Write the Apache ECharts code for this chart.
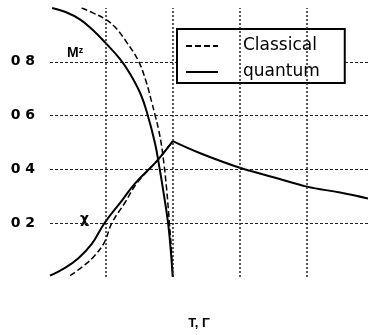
<!DOCTYPE html>
<html>
<head>
<meta charset="utf-8">
<script src="https://cdn.jsdelivr.net/npm/echarts@6/dist/echarts.min.js"></script>
<style>
html,body{margin:0;padding:0;background:#fff;}
#chart{width:368px;height:335px;}
</style>
</head>
<body>
<div id="chart"></div>
<script>
// ---- data ----
const tQuantumM   = [0.10, 0.20, 0.31, 0.40, 0.495, 0.607, 0.681, 0.756, 0.806, 0.868, 0.903, 0.93, 0.965, 0.985, 1.0];
const quantumM    = [1.00, 0.985, 0.957, 0.92, 0.872, 0.81, 0.756, 0.685, 0.614, 0.496, 0.40, 0.318, 0.201, 0.10, 0.0];

const tClassicalM = [0.32, 0.40, 0.495, 0.569, 0.657, 0.743, 0.801, 0.843, 0.868, 0.894, 0.916, 0.935, 0.954, 0.975, 0.99, 1.0];
const classicalM  = [1.00, 0.983, 0.959, 0.929, 0.872, 0.804, 0.727, 0.650, 0.602, 0.549, 0.489, 0.418, 0.329, 0.201, 0.102, 0.0];

const tQuantumChi = [0.084, 0.196, 0.296, 0.396, 0.49, 0.619, 0.719, 0.881, 1.0, 1.205, 1.495, 1.751, 2.0, 2.249, 2.457];
const quantumChi  = [0.005, 0.034, 0.070, 0.123, 0.200, 0.283, 0.348, 0.431, 0.505, 0.46, 0.407, 0.371, 0.336, 0.314, 0.292];

const tClassicalChi = [0.234, 0.346, 0.42, 0.49, 0.545, 0.644, 0.731, 0.881, 1.0];
const classicalChi  = [0.005, 0.046, 0.081, 0.129, 0.200, 0.277, 0.348, 0.431, 0.505];

const gridT = [0.5, 1.0, 1.5, 2.0];
const yTickValues = [0.2, 0.4, 0.6, 0.8];
const yTickLabels = ['0 2', '0 4', '0 6', '0 8'];
const legendNames = ['Classical', 'quantum'];
const xTitle = 'T, Γ';
const tc = 1.0;

// ---- build ----
const zip = (xs, ys) => xs.map((x, i) => [x, ys[i]]);
const qChi = zip(tQuantumChi, quantumChi);
const qChiLow = qChi.filter(p => p[0] <= tc);
const qChiHigh = qChi.filter(p => p[0] >= tc);

const solid = {color: '#000', width: 2, type: 'solid'};
const dashed = {color: '#000', width: 1.5, type: [6, 3]};

function lineSeries(name, data, style) {
  return {
    name: name, type: 'line', data: data, symbol: 'none', showSymbol: false,
    smooth: 0.4, clip: true,
    lineStyle: style, itemStyle: {color: '#000'},
    silent: true, animation: false
  };
}

const chart = echarts.init(document.getElementById('chart'), null, {renderer: 'canvas'});
chart.setOption({
  animation: false,
  backgroundColor: '#fff',
  grid: {left: 50, right: 0, top: 8, bottom: 45, containLabel: false},
  legend: {
    data: legendNames,
    orient: 'vertical',
    left: 177, top: 29,
    backgroundColor: '#fff',
    borderColor: '#000', borderWidth: 2, borderRadius: 0,
    padding: [7, 25, 1, 8],
    itemWidth: 32, itemHeight: 10, itemGap: 6,
    selectedMode: false,
    itemStyle: {opacity: 0},
    textStyle: {fontFamily: 'DejaVu Sans', fontSize: 17, color: '#000',
                lineHeight: 20, padding: [0, 0, 0, 20]}
  },
  xAxis: {
    type: 'value', min: 0.084, max: 2.457,
    axisLine: {show: false}, axisTick: {show: false}, axisLabel: {show: false},
    splitLine: {show: false},
    name: xTitle, nameLocation: 'middle', nameGap: 40,
    nameTextStyle: {fontFamily: 'Liberation Sans', fontSize: 13, fontWeight: 'bold',
                    color: '#000', padding: [0, 20, 0, 0]}
  },
  yAxis: {
    type: 'value', min: 0, max: 1, interval: 0.2,
    axisLine: {show: false}, axisTick: {show: false},
    axisLabel: {
      margin: 15, fontFamily: 'DejaVu Sans', fontSize: 14, fontWeight: 'bold', color: '#000',
      formatter: function (v) {
        for (let i = 0; i < yTickValues.length; i++) {
          if (Math.abs(v - yTickValues[i]) < 1e-6) return yTickLabels[i];
        }
        return '';
      }
    },
    splitLine: {show: true, showMinLine: false, showMaxLine: false,
                lineStyle: {color: '#222', width: 1, type: [3, 2]}}
  },
  graphic: [
    {type: 'text', left: 67, top: 46, silent: true,
     style: {text: '{m|M}{z|z}', rich: {
       m: {fontFamily: 'Liberation Sans', fontSize: 14, fontWeight: 'bold', fill: '#000'},
       z: {fontFamily: 'Liberation Sans', fontSize: 9, fontWeight: 'bold', fill: '#000', verticalAlign: 'top', padding: [0, 0, 6, 0]}
     }}},
    {type: 'text', left: 80, top: 212, silent: true,
     style: {text: 'χ', fontFamily: 'DejaVu Sans', fontSize: 14, fontWeight: 'bold', fill: '#000'}}
  ],
  series: [
    Object.assign(lineSeries('gridlines', [], solid), {
      markLine: {
        silent: true, symbol: ['none', 'none'], label: {show: false},
        lineStyle: {color: '#222', width: 1.5, type: [2, 2]},
        data: gridT.map(v => ({xAxis: v}))
      }
    }),
    lineSeries('Classical', zip(tClassicalM, classicalM), dashed),
    lineSeries('Classical', zip(tClassicalChi, classicalChi), dashed),
    lineSeries('quantum', zip(tQuantumM, quantumM), solid),
    lineSeries('quantum', qChiLow, solid),
    lineSeries('quantum', qChiHigh, solid)
  ]
});
</script>
</body>
</html>
